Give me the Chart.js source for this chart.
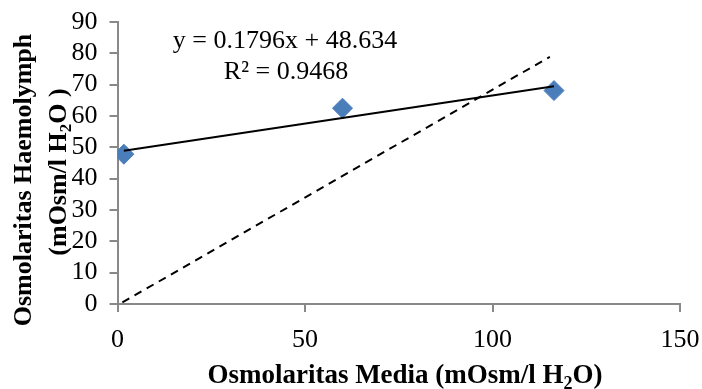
<!DOCTYPE html>
<html>
<head>
<meta charset="utf-8">
<title>Osmolaritas</title>
<script src="https://cdn.jsdelivr.net/npm/chart.js@4.4.1/dist/chart.umd.min.js"></script>
<style>
  html, body { margin: 0; padding: 0; background: #fff; }
  #wrap { width: 702px; height: 389px; position: relative; }
</style>
</head>
<body>
<div id="wrap"><canvas id="myChart" width="702" height="389"></canvas></div>
<script>
/*----------------------------- data ----------------------------*/
// osmolaritas media vs haemolymph
const mediaX = [1.7, 60, 116.4];
const haemoY = [47.8, 62.5, 68.1];

// garis trend (ujung-ujung garis)
const trendX = [1.7, 116.4];
const trendY = [48.9, 69.5];

// garis isoosmotik putus-putus
const isoX = [1.3, 115.3];
const isoY = [0.5, 78.9];

const xTicks = [0, 50, 100, 150];
const yTicks = [0, 10, 20, 30, 40, 50, 60, 70, 80, 90];

const eqText = 'y = 0.1796x + 48.634';
const r2Text = 'R\u00B2 = 0.9468';

const serif = '"Liberation Serif", "Times New Roman", serif';
const axisGray = '#898989';

function toPoints(xs, ys) {
    return xs.map((x, i) => ({ x: x, y: ys[i] }));
}

// tulis teks dengan subscript (H2O)
function drawParts(ctx, parts, cx, cy, size) {
    const full = size + 'px ' + serif;
    const small = Math.round(size * 0.65) + 'px ' + serif;
    let total = 0;
    parts.forEach(p => {
        ctx.font = (p.bold ? 'bold ' : '') + (p.sub ? small : full);
        total += ctx.measureText(p.t).width;
    });
    let x = cx - total / 2;
    parts.forEach(p => {
        ctx.font = (p.bold ? 'bold ' : '') + (p.sub ? small : full);
        ctx.fillText(p.t, x, p.sub ? cy + size * 0.3 : cy);
        x += ctx.measureText(p.t).width;
    });
}

const labelsPlugin = {
    id: 'labelsPlugin',
    afterDraw(chart) {
        const ctx = chart.ctx;
        ctx.save();
        ctx.fillStyle = '#000';
        ctx.textBaseline = 'middle';
        ctx.textAlign = 'left';

        // judul sumbu x
        drawParts(ctx, [
            { t: 'Osmolaritas Media (mOsm/l H', bold: true },
            { t: '2', bold: true, sub: true },
            { t: 'O)', bold: true }
        ], 405, 376, 27);

        // judul sumbu y (dua baris, diputar)
        ctx.save();
        ctx.translate(24, 180);
        ctx.rotate(-Math.PI / 2);
        drawParts(ctx, [{ t: 'Osmolaritas Haemolymph', bold: true }], 0, 0, 26);
        ctx.restore();

        ctx.save();
        ctx.translate(59, 172);
        ctx.rotate(-Math.PI / 2);
        drawParts(ctx, [
            { t: '(mOsm/l H', bold: true },
            { t: '2', bold: true, sub: true },
            { t: 'O )', bold: true }
        ], 0, 0, 26);
        ctx.restore();

        // persamaan trend
        drawParts(ctx, [{ t: eqText }], 285, 41, 26);
        drawParts(ctx, [{ t: r2Text }], 286, 72, 26);
        ctx.restore();
    }
};

const data = {
    datasets: [
        {
            label: 'isoosmotik',
            data: toPoints(isoX, isoY),
            showLine: true,
            borderColor: '#000',
            borderWidth: 2,
            borderDash: [8, 6],
            pointRadius: 0,
            fill: false
        },
        {
            label: 'trend',
            data: toPoints(trendX, trendY),
            showLine: true,
            borderColor: '#000',
            borderWidth: 2,
            pointRadius: 0,
            fill: false
        },
        {
            label: 'haemolymph',
            data: toPoints(mediaX, haemoY),
            showLine: false,
            pointStyle: 'rectRot',
            pointRadius: 10,
            backgroundColor: '#4A7EBB',
            borderColor: '#4A7EBB',
            borderWidth: 1
        }
    ]
};

const config = {
    type: 'scatter',
    data: data,
    options: {
        responsive: false,
        animation: false,
        layout: {
            padding: { top: 22, right: 22, left: 0, bottom: 0 }
        },
        plugins: {
            legend: { display: false },
            tooltip: { enabled: false }
        },
        scales: {
            x: {
                type: 'linear',
                min: 0,
                max: 150,
                afterBuildTicks(scale) {
                    scale.ticks = xTicks.map(v => ({ value: v }));
                },
                afterFit(scale) {
                    scale.height = 85;
                    scale.paddingLeft = 0;
                    scale.paddingRight = 0;
                },
                ticks: {
                    color: '#000',
                    font: { family: serif, size: 26 },
                    padding: 13,
                    autoSkip: false,
                    maxRotation: 0
                },
                grid: {
                    drawOnChartArea: false,
                    drawTicks: true,
                    tickLength: 8,
                    color: axisGray,
                    lineWidth: 2
                },
                border: { color: axisGray, width: 2 }
            },
            y: {
                type: 'linear',
                min: 0,
                max: 90,
                afterBuildTicks(scale) {
                    scale.ticks = yTicks.map(v => ({ value: v }));
                },
                afterFit(scale) {
                    scale.width = 117.5;
                    scale.paddingTop = 0;
                    scale.paddingBottom = 0;
                },
                ticks: {
                    color: '#000',
                    font: { family: serif, size: 26 },
                    padding: 12,
                    autoSkip: false
                },
                grid: {
                    drawOnChartArea: false,
                    drawTicks: true,
                    tickLength: 8,
                    color: axisGray,
                    lineWidth: 2
                },
                border: { color: axisGray, width: 2 }
            }
        }
    },
    plugins: [labelsPlugin]
};

const myChart = new Chart(document.getElementById('myChart'), config);
</script>
</body>
</html>
